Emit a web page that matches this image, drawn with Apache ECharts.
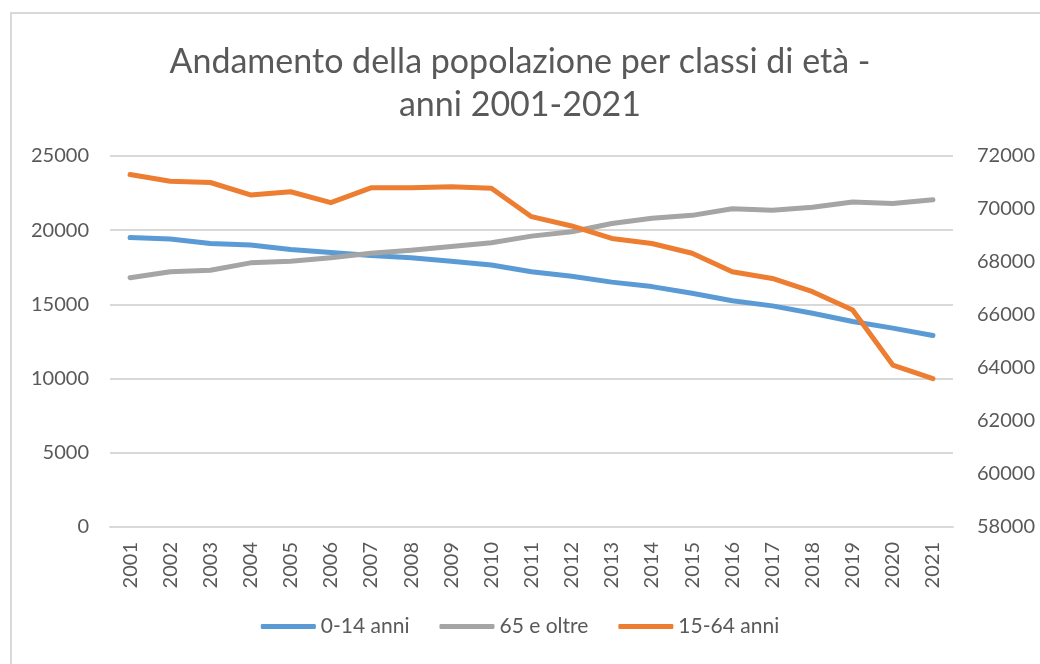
<!DOCTYPE html>
<html>
<head>
<meta charset="utf-8">
<script src="https://cdn.jsdelivr.net/npm/echarts@6/dist/echarts.min.js"></script>
<style>
  html, body { margin: 0; padding: 0; background: #fff; }
  #chart { width: 1040px; height: 664px; }
</style>
</head>
<body>
<div id="chart"></div>
<script>
// anni
var anni = ['2001', '2002', '2003', '2004', '2005', '2006', '2007', '2008', '2009', '2010',
  '2011', '2012', '2013', '2014', '2015', '2016', '2017', '2018', '2019', '2020', '2021'];
// 0-14 anni (asse sinistro)
var bambini = [19500, 19400, 19100, 19000, 18700, 18500, 18300, 18150, 17900, 17650,
  17200, 16900, 16500, 16200, 15750, 15250, 14900, 14400, 13850, 13400, 12900];
// 65 e oltre (asse sinistro)
var anziani = [16800, 17200, 17300, 17800, 17900, 18150, 18450, 18650, 18900, 19150,
  19600, 19900, 20450, 20800, 21000, 21450, 21350, 21550, 21900, 21800, 22050];
// 15-64 anni (asse destro)
var adulti = [71300, 71050, 71000, 70530, 70650, 70240, 70800, 70800, 70840, 70780,
  69710, 69360, 68890, 68700, 68330, 67630, 67380, 66880, 66190, 64110, 63600];

var testo = '#595959';
var griglia = '#d9d9d9';
var font = 'Lato';

// numeri senza separatore delle migliaia, come in Excel
function numero(v) {
  return String(v);
}

var myChart = echarts.init(document.getElementById('chart'));

var option = {
  animation: false,
  backgroundColor: '#fff',
  color: ['#5b9bd5', '#a5a5a5', '#ed7d31'],
  title: {
    text: 'Andamento della popolazione per classi di età -\nanni 2001-2021',
    left: 'center',
    top: 36,
    textStyle: {
      fontFamily: font,
      fontWeight: 'normal',
      fontSize: 34,
      lineHeight: 43,
      color: testo
    }
  },
  legend: {
    bottom: 22,
    left: 'center',
    icon: 'roundRect',
    itemWidth: 55,
    itemHeight: 5,
    itemGap: 30,
    textStyle: { fontFamily: font, fontSize: 21, color: testo },
    data: ['0-14 anni', '65 e oltre', '15-64 anni']
  },
  grid: { left: 110, right: 87, top: 156, bottom: 137, containLabel: false },
  xAxis: {
    type: 'category',
    data: anni,
    boundaryGap: true,
    axisLine: { lineStyle: { color: griglia, width: 2 } },
    axisTick: { show: false },
    axisLabel: {
      rotate: 90,
      margin: 15,
      interval: 0,
      fontFamily: font,
      fontSize: 20,
      color: testo
    }
  },
  yAxis: [
    {
      type: 'value',
      min: 0,
      max: 25000,
      interval: 5000,
      axisLine: { show: false },
      axisTick: { show: false },
      splitLine: { lineStyle: { color: griglia, width: 2 } },
      axisLabel: { margin: 21, fontFamily: font, fontSize: 20, color: testo, formatter: numero }
    },
    {
      type: 'value',
      min: 58000,
      max: 72000,
      interval: 2000,
      position: 'right',
      axisLine: { show: false },
      axisTick: { show: false },
      splitLine: { show: false },
      axisLabel: { margin: 24, fontFamily: font, fontSize: 20, color: testo, formatter: numero }
    }
  ],
  series: [
    {
      name: '0-14 anni', type: 'line', yAxisIndex: 0, data: bambini,
      symbol: 'none', lineStyle: { width: 5, cap: 'round', join: 'round' }
    },
    {
      name: '65 e oltre', type: 'line', yAxisIndex: 0, data: anziani,
      symbol: 'none', lineStyle: { width: 5, cap: 'round', join: 'round' }
    },
    {
      name: '15-64 anni', type: 'line', yAxisIndex: 1, data: adulti,
      symbol: 'none', lineStyle: { width: 5, cap: 'round', join: 'round' }
    }
  ],
  // cornice del grafico (solo bordo sinistro e superiore visibili)
  graphic: [
    { type: 'rect', shape: { x: 10, y: 12, width: 1040, height: 2 }, style: { fill: griglia } },
    { type: 'rect', shape: { x: 10, y: 12, width: 2, height: 660 }, style: { fill: griglia } }
  ]
};

myChart.setOption(option);
</script>
</body>
</html>
